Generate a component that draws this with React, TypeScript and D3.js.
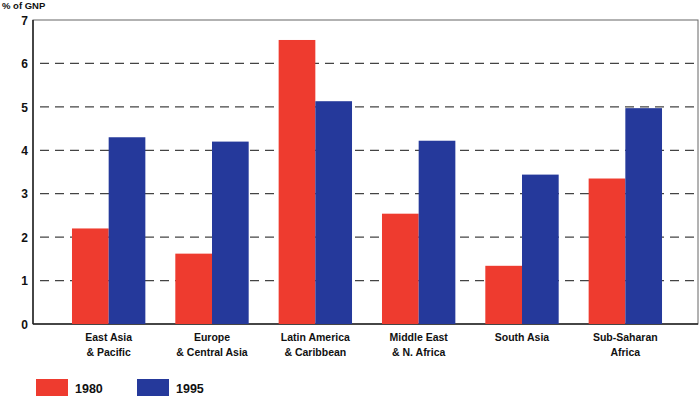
import * as d3 from 'd3';

// Data
const regions = [
  ['East Asia', '& Pacific'],
  ['Europe', '& Central Asia'],
  ['Latin America', '& Caribbean'],
  ['Middle East', '& N. Africa'],
  ['South Asia'],
  ['Sub-Saharan', 'Africa'],
];
const values1980 = [2.2, 1.62, 6.54, 2.54, 1.34, 3.35];
const values1995 = [4.3, 4.2, 5.13, 4.22, 3.44, 4.97];
const years = ['1980', '1995'];
const yTicks = [0, 1, 2, 3, 4, 5, 6, 7];

const RED = '#ee3b2f';
const BLUE = '#25399b';
const FONT = '"Liberation Sans", Arial, sans-serif';

export default function App() {
  const width = 700;
  const height = 398;
  const left = 33;
  const right = 698;
  const top = 20;
  const bottom = 324;

  const y = d3.scaleLinear().domain([0, 7]).range([bottom, top]);
  const x = d3
    .scaleBand<number>()
    .domain(d3.range(regions.length))
    .range([57, 677])
    .paddingInner(0.29)
    .paddingOuter(0.145);
  const sub = d3.scaleBand<string>().domain(years).range([0, x.bandwidth()]);
  const series = [values1980, values1995];
  const colors = [RED, BLUE];

  return (
    <svg
      width={width}
      height={height}
      style={{ position: 'absolute', left: 0, top: 0, background: '#fff' }}
      fontFamily={FONT}
    >
      {/* dashed grid */}
      {yTicks.slice(1, -1).map((t) => (
        <line
          key={t}
          x1={left + 7}
          x2={right}
          y1={y(t)}
          y2={y(t)}
          stroke="#444"
          strokeWidth={1.2}
          strokeDasharray="9,6"
        />
      ))}

      {/* frame */}
      <rect x={left} y={top} width={right - left} height={bottom - top} fill="none" stroke="#666" strokeWidth={1} />
      <line x1={left} x2={right} y1={bottom} y2={bottom} stroke="#222" strokeWidth={1.5} />
      <line x1={left} x2={left} y1={top} y2={bottom} stroke="#222" strokeWidth={1.5} />

      {/* bars */}
      {regions.map((_r, i) =>
        series.map((vals, s) => (
          <rect
            key={`${i}-${s}`}
            x={(x(i) ?? 0) + (sub(years[s]) ?? 0)}
            y={y(vals[i])}
            width={sub.bandwidth()}
            height={bottom - y(vals[i])}
            fill={colors[s]}
          />
        ))
      )}

      {/* y ticks */}
      {yTicks.map((t) => (
        <text
          key={t}
          x={28}
          y={y(t) + 1.5}
          textAnchor="end"
          dominantBaseline="middle"
          fontSize={12}
          fontWeight="bold"
          fill="#111"
        >
          {t}
        </text>
      ))}
      <text x={2} y={9} fontSize={9.5} fontWeight="bold" fill="#111">
        % of GNP
      </text>

      {/* category labels */}
      {regions.map((lines, i) => (
        <text
          key={i}
          x={(x(i) ?? 0) + x.bandwidth() / 2}
          y={341}
          textAnchor="middle"
          fontSize={10.5}
          fontWeight="bold"
          fill="#111"
        >
          {lines.map((l, j) => (
            <tspan key={j} x={(x(i) ?? 0) + x.bandwidth() / 2} dy={j === 0 ? 0 : 15}>
              {l}
            </tspan>
          ))}
        </text>
      ))}

      {/* legend */}
      {years.map((yr, s) => (
        <g key={yr} transform={`translate(${36 + s * 101},379)`}>
          <rect width={32} height={17} fill={colors[s]} />
          <text x={39} y={14} fontSize={12.5} fontWeight="bold" fill="#111">
            {yr}
          </text>
        </g>
      ))}
    </svg>
  );
}
